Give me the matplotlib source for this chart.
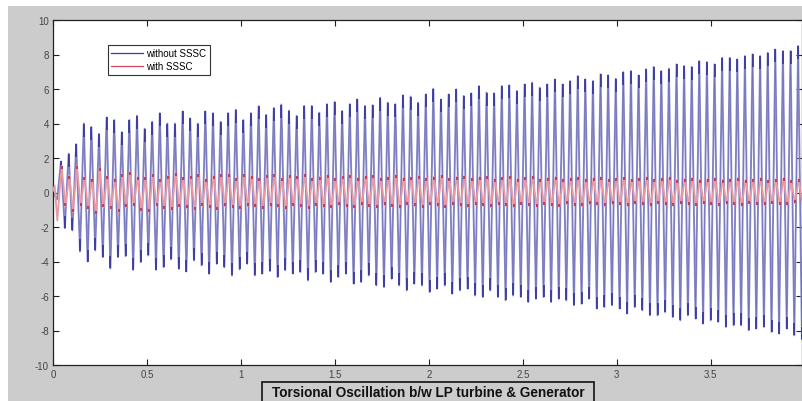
import numpy as np
import matplotlib
matplotlib.use('Agg')
import matplotlib.pyplot as plt
from matplotlib.path import Path
from matplotlib.lines import Line2D
from matplotlib.patches import Rectangle

plt.rcParams['font.family'] = ['Liberation Sans', 'DejaVu Sans']

# oscillation period (s) and time of the first positive swing
period = 0.04043
blue_first_peak = 0.0426
red_first_peak = 0.046

# start-up transient before the first full swing
blue_lead_t = [0.0, 0.022]
blue_lead_v = [0.0, -0.4]
red_lead_t = [0.0, 0.009, 0.023]
red_lead_v = [0.1, 0.4, -1.63]

# swing extrema, one value per cycle
blue_peaks = [1.8, 2.25, 2.8, 4.0, 3.8, 3.4, 4.35, 4.2, 3.5, 4.2, 4.45, 3.7, 4.1, 4.6,
              4.0, 4.0, 4.7, 4.3, 4.0, 4.7, 4.6, 4.1, 4.6, 4.8, 4.2, 4.6, 5.0, 4.5,
              4.9, 5.1, 4.75,
              4.44, 5.02, 5.02, 4.63, 5.12, 5.25, 4.73, 5.12, 5.4, 5.02, 5.06, 5.5,
              5.21, 5.12, 5.64, 5.56, 5.21, 5.69, 6.02, 5.4, 5.69, 5.98, 5.6, 5.75,
              6.17, 5.79, 5.75, 6.17, 6.21, 5.88, 6.27, 6.37, 6.08, 6.27,
              6.56, 6.27, 6.46, 6.75, 6.56, 6.46, 6.85, 6.79, 6.6, 6.98, 7.04, 6.79,
              7.14, 7.29, 7.04, 7.18, 7.43, 7.33, 7.29, 7.62, 7.56, 7.43, 7.81, 7.81,
              7.72, 7.91, 8.01, 7.91, 8.1, 8.29, 8.2, 8.2, 8.49]
blue_troughs = [-2.07, -2.2, -3.42, -4.0, -3.36, -3.75, -4.4, -3.75, -3.69, -4.48, -4.04,
                -3.65, -4.48, -4.33, -3.88, -4.42, -4.58, -3.94, -4.23, -4.71, -4.13,
                -4.33, -4.81, -4.46, -4.13, -4.81, -4.71,
                -4.55, -4.9, -4.5, -4.7,
                -4.61, -5.1, -4.61, -4.71, -5.19, -4.9, -4.71, -5.29, -5.19, -4.81,
                -5.39, -5.48, -5.0, -5.39, -5.68, -5.29, -5.39, -5.77, -5.58, -5.39,
                -5.87, -5.68, -5.58, -5.97, -6.06, -5.68, -6.06, -6.25, -5.97, -6.06,
                -6.35, -6.16, -6.06, -6.35,
                -6.16, -6.25, -6.54, -6.45, -6.16, -6.73, -6.64, -6.54, -6.73, -7.02,
                -6.64, -6.83, -7.12, -7.12, -6.93, -7.22, -7.41, -7.12, -7.31, -7.6,
                -7.41, -7.5, -7.79, -7.7, -7.7, -7.99, -7.89, -7.79, -8.08, -8.18,
                -7.89, -8.28, -8.5]
red_peaks = [1.55, 0.98, 1.55, 0.88, 0.78, 1.40, 0.98, 0.80, 1.07, 1.20, 0.88, 0.88, 1.07,
             0.78, 0.97, 1.13, 0.88, 0.97, 1.07, 0.78, 0.97, 1.07, 1.05, 0.82, 1.07, 0.97,
             0.82, 1.01, 1.07, 0.82, 1.01,
             0.97, 1.05, 0.85, 0.92, 1.02, 0.86, 0.95, 1.04, 0.85, 0.93, 1.00, 0.84, 0.92,
             1.02, 0.86, 0.90, 0.98, 0.84, 0.92, 1.00, 0.83, 0.90, 0.97, 0.82, 0.90, 0.96,
             0.80, 0.88, 0.95, 0.80, 0.87, 0.94, 0.80, 0.86,
             0.90, 0.80, 0.85, 0.90, 0.78, 0.84, 0.90, 0.77, 0.83, 0.88, 0.76, 0.82, 0.88,
             0.76, 0.82, 0.87, 0.75, 0.80, 0.86, 0.74, 0.80, 0.85, 0.74, 0.80, 0.84, 0.73,
             0.79, 0.84, 0.73, 0.78, 0.83, 0.72, 0.78]
red_troughs = [-0.80, -1.15, -0.76, -0.95, -1.24, -0.86, -0.95, -1.15, -0.86, -0.76, -1.05,
               -1.11, -0.76, -0.95, -1.00, -0.82, -0.92, -1.02, -0.80, -0.90, -1.00, -0.80,
               -0.88, -0.98, -0.80, -0.86, -0.96, -0.78, -0.86, -0.95, -0.78,
               -0.85, -0.93, -0.76, -0.84, -0.92, -0.75, -0.83, -0.91, -0.75, -0.82, -0.90,
               -0.74, -0.82, -0.89, -0.74, -0.80, -0.88, -0.73, -0.80, -0.87, -0.72, -0.79,
               -0.86, -0.72, -0.78, -0.85, -0.71, -0.78, -0.84, -0.70, -0.77, -0.83, -0.70,
               -0.76,
               -0.82, -0.69, -0.76, -0.81, -0.68, -0.75, -0.80, -0.68, -0.74, -0.79, -0.67,
               -0.74, -0.78, -0.66, -0.73, -0.78, -0.66, -0.72, -0.77, -0.65, -0.72, -0.76,
               -0.65, -0.71, -0.76, -0.64, -0.70, -0.75, -0.64, -0.70, -0.74, -0.63, -0.70]

xticks = [0, 0.5, 1, 1.5, 2, 2.5, 3, 3.5]
xticklabels = ['0', '0.5', '1', '1.5', '2', '2.5', '3', '3.5']
yticks = [-10, -8, -6, -4, -2, 0, 2, 4, 6, 8, 10]
labels = ['without SSSC', 'with SSSC']
title = 'Torsional Oscillation b/w LP turbine & Generator'


def swing(first_peak, peaks, troughs, lead_t, lead_v):
    k = np.arange(len(peaks))
    tp = first_peak + k * period
    tt = tp + period / 2
    t = np.column_stack([tp, tt]).ravel()
    v = np.column_stack([peaks, troughs]).ravel()
    return np.r_[lead_t, t], np.r_[lead_v, v], tp, tt


bt, bv, btp, btt = swing(blue_first_peak, blue_peaks, blue_troughs, blue_lead_t, blue_lead_v)
rt, rv, rtp, rtt = swing(red_first_peak, red_peaks, red_troughs, red_lead_t, red_lead_v)

# short stubs hanging inward from each extremum
stub_down = Path([(0, 0), (0, -1)])
stub_up = Path([(0, 0), (0, 1)])

fig = plt.figure(figsize=(8.03, 4.02), dpi=100, facecolor='white')
fig.patches.append(Rectangle((8 / 803, 0), 1, 395 / 402, transform=fig.transFigure,
                             facecolor='#cccccc', edgecolor='none', zorder=-10))

ax = fig.add_axes([53 / 803, 36 / 402, 749 / 803, 345 / 402])
ax.set_facecolor('white')

ax.plot(bt, bv, color='#9292cc', lw=1.4, zorder=2)
ax.plot(bt, bv, color='#5a5ab0', lw=0.5, alpha=0.6, zorder=2)
ax.plot(btp, blue_peaks, ls='none', marker=stub_down, ms=18, mew=1.3, color='#30309e',
        alpha=0.9, zorder=3)
ax.plot(btt, blue_troughs, ls='none', marker=stub_up, ms=18, mew=1.3, color='#30309e',
        alpha=0.9, zorder=3)

ax.plot(rt, rv, color='#e89aa4', lw=1.3, zorder=4)
ax.plot(rtp, red_peaks, ls='none', marker=stub_down, ms=5, mew=1.4, color='#c42844',
        alpha=0.85, zorder=5)
ax.plot(rtt, red_troughs, ls='none', marker=stub_up, ms=5, mew=1.4, color='#c42844',
        alpha=0.85, zorder=5)

ax.set_xlim(0, 3.985)
ax.set_ylim(-10, 10)
ax.set_xticks(xticks)
ax.set_xticklabels(xticklabels)
ax.set_yticks(yticks)
ax.set_yticklabels([str(y) for y in yticks])
ax.tick_params(direction='in', length=4, width=0.8, top=True, right=True,
               labelsize=7, colors='#222222', labelcolor='#444444', pad=3)
for s in ax.spines.values():
    s.set_color('#222222')
    s.set_linewidth(0.9)

handles = [Line2D([], [], color='#3a3aa8', lw=0.9), Line2D([], [], color='#d04a5a', lw=0.9)]
leg = ax.legend(handles, labels, loc='upper left', bbox_to_anchor=(55 / 749, 320 / 345),
                borderaxespad=0, fontsize=7, handlelength=3.2, handletextpad=0.4,
                labelspacing=0.3, borderpad=0.35, fancybox=False, framealpha=1,
                edgecolor='#333333', facecolor='white')
leg.get_frame().set_linewidth(0.8)

fig.patches.append(Rectangle((262 / 803, -0.05), 332 / 803, 0.05 + 19 / 402,
                             transform=fig.transFigure, facecolor='#cccccc',
                             edgecolor='#111111', lw=1.2, zorder=5))
fig.text(428 / 803, 1 - 393 / 402, title, ha='center', va='center',
         fontsize=9.8, fontweight='bold', color='#111111', zorder=6)

fig.savefig('out.png', dpi=100, facecolor=fig.get_facecolor())
